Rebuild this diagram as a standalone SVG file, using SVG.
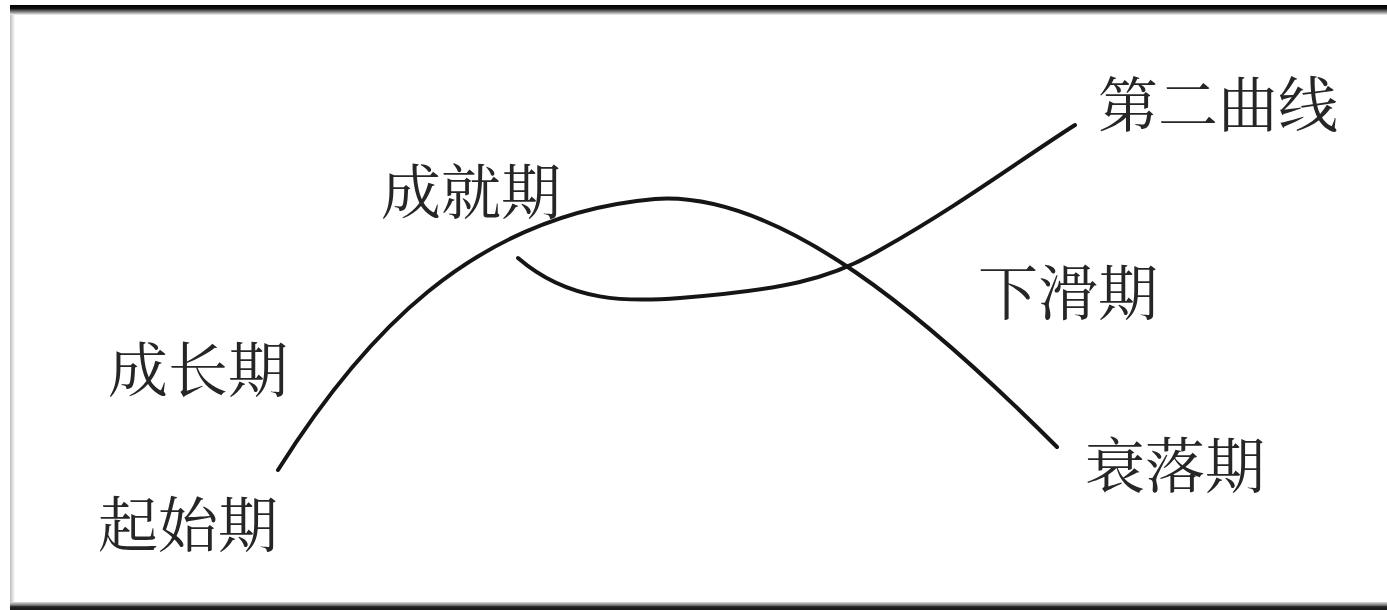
<svg xmlns="http://www.w3.org/2000/svg" width="1387" height="610" viewBox="0 0 1387 610">
  <defs>
    <linearGradient id="topFade" x1="0" y1="0" x2="0" y2="1">
      <stop offset="0" stop-color="#000"/>
      <stop offset="0.35" stop-color="#111"/>
      <stop offset="0.7" stop-color="#888"/>
      <stop offset="1" stop-color="#f4f4f4"/>
    </linearGradient>
    <linearGradient id="botFade" x1="0" y1="0" x2="0" y2="1">
      <stop offset="0" stop-color="#ddd"/>
      <stop offset="0.4" stop-color="#777"/>
      <stop offset="0.6" stop-color="#222"/>
      <stop offset="1" stop-color="#1a1a1a"/>
    </linearGradient>
    <linearGradient id="leftFade" x1="0" y1="0" x2="1" y2="0">
      <stop offset="0" stop-color="#bbb"/>
      <stop offset="1" stop-color="#fff"/>
    </linearGradient>
  </defs>
  <style>
    .lbl { font-family: "Noto Serif CJK SC", "Noto Sans CJK SC", serif; font-size: 60px; fill: #262626; dominant-baseline: central; }
    .curve { fill: none; stroke: #151515; stroke-width: 4; stroke-linecap: round; }
  </style>
  <rect x="0" y="0" width="1387" height="610" fill="#ffffff"/>
  <g id="frame">
    <rect x="10" y="6" width="5" height="600" fill="url(#leftFade)"/>
    <rect x="10" y="5" width="1377" height="10" fill="url(#topFade)"/>
    <rect x="10" y="602" width="1377" height="8" fill="url(#botFade)"/>
  </g>
  <g id="curves">
    <path id="first-curve" class="curve" d="M278,470 C360,340 470,215 655,199 C780,190 930,320 1057,447"/>
    <path id="second-curve" class="curve" d="M518,258 C570,303 630,302 680,298 C780,290 830,280 880,250 C960,205 1020,160 1075,125"/>
  </g>
  <g id="label-second-curve"><text class="lbl" x="1098" y="101">第二曲线</text></g>
  <g id="label-achievement"><text class="lbl" x="381" y="188">成就期</text></g>
  <g id="label-decline-slide"><text class="lbl" x="978" y="289">下滑期</text></g>
  <g id="label-growth"><text class="lbl" x="108" y="366">成长期</text></g>
  <g id="label-start"><text class="lbl" x="98" y="521">起始期</text></g>
  <g id="label-decay"><text class="lbl" x="1085" y="462">衰落期</text></g>
</svg>
